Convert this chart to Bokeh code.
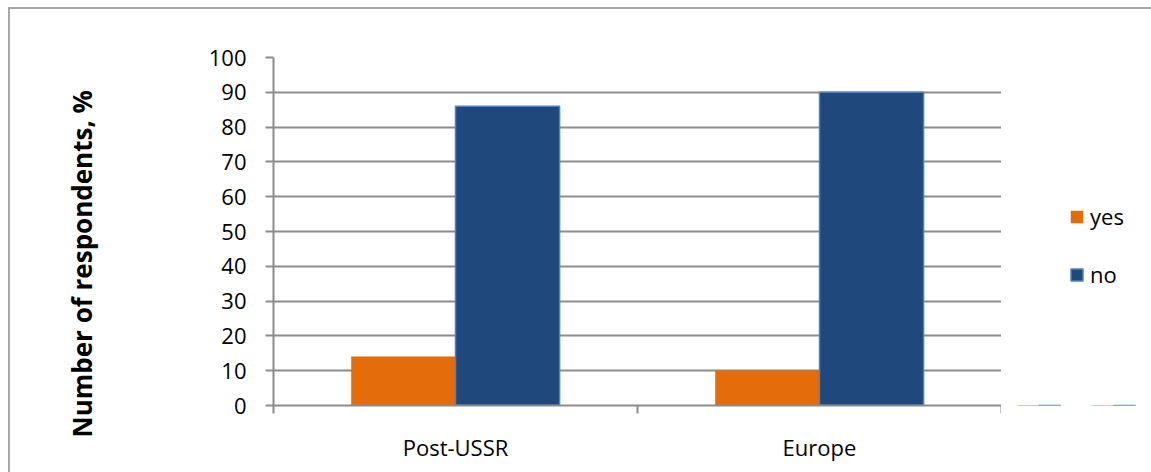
from bokeh.plotting import figure
from bokeh.layouts import row
from bokeh.models import (ColumnDataSource, FixedTicker, Range1d, Legend, LegendItem,
                          Title, InlineStyleSheet, LinearAxis)
from bokeh.embed import file_html
from bokeh.resources import INLINE

categories = ["Post-USSR", "Europe"]
series_names = ["yes", "no"]
yes_values = [14, 10]
no_values = [86, 90]
y_ticks = [0, 10, 20, 30, 40, 50, 60, 70, 80, 90, 100]

FONT = "Open Sans"
BAR_W = 0.286
YES_FILL, YES_LINE = "#E46C0A", "#E46C0A"
NO_FILL, NO_LINE = "#1F497D", "#4F81BD"

centers = [i + 0.5 for i in range(len(categories))]
src = ColumnDataSource(dict(
    xy=[c - BAR_W / 2 for c in centers],
    xn=[c + BAR_W / 2 for c in centers],
    yes=yes_values,
    no=no_values,
))

p = figure(frame_width=728, frame_height=348, output_backend="svg", toolbar_location=None,
           x_range=Range1d(0, len(categories)), y_range=Range1d(0, 100),
           min_border_left=0, min_border_right=0, min_border_top=57, min_border_bottom=67)
p.outline_line_color = None
p.background_fill_color = "white"
p.border_fill_color = "white"

p.vbar(x="xy", top="yes", width=BAR_W, bottom=0, source=src,
       fill_color=YES_FILL, line_color=YES_LINE, line_width=0.5)
p.vbar(x="xn", top="no", width=BAR_W, bottom=0, source=src,
       fill_color=NO_FILL, line_color=NO_LINE, line_width=1.5)

# axes
p.yaxis.ticker = FixedTicker(ticks=y_ticks)
p.yaxis.axis_line_color = "#8C8C8C"
p.yaxis.axis_line_width = 2
p.yaxis.major_tick_line_color = "#8C8C8C"
p.yaxis.major_tick_line_width = 2
p.yaxis.major_tick_out = 8
p.yaxis.major_tick_in = 0
p.yaxis.minor_tick_line_color = None
p.yaxis.major_label_text_font = FONT
p.yaxis.major_label_text_font_size = "22px"
p.yaxis.major_label_text_color = "black"
p.yaxis.major_label_standoff = 19

p.xaxis.ticker = FixedTicker(ticks=centers, minor_ticks=list(range(len(categories) + 1)))
p.xaxis.major_label_overrides = {c: name for c, name in zip(centers, categories)}
p.xaxis.axis_line_color = "#8C8C8C"
p.xaxis.axis_line_width = 2
p.xaxis.major_tick_line_color = None
p.xaxis.major_tick_out = 0
p.xaxis.major_tick_in = 0
p.xaxis.minor_tick_line_color = "#8C8C8C"
p.xaxis.minor_tick_line_width = 2
p.xaxis.minor_tick_out = 8
p.xaxis.minor_tick_in = 0
p.xaxis.major_label_text_font = FONT
p.xaxis.major_label_text_font_size = "22px"
p.xaxis.major_label_text_color = "black"
p.xaxis.major_label_standoff = 18

p.xgrid.grid_line_color = None
p.ygrid.ticker = FixedTicker(ticks=y_ticks)
p.ygrid.grid_line_color = "#8C8C8C"
p.ygrid.grid_line_width = 2

# left side: y axis, a blank spacer axis (white tick on white), then the y-axis title
p.add_layout(LinearAxis(ticker=FixedTicker(ticks=[0]), axis_line_color=None,
                        major_tick_line_color="white", minor_tick_line_color=None,
                        major_tick_out=41, major_tick_in=0, minor_tick_out=0,
                        minor_tick_in=0, major_label_standoff=0,
                        major_label_text_font_size="1px",
                        major_label_text_color="white",
                        major_label_overrides={0: ""}), "left")
ytitle = Title(text="Number of respondents, %", align="left", offset=-32,
               vertical_align="top", standoff=126,
               text_font=FONT, text_font_size="26px", text_font_style="bold",
               text_color="black")
p.add_layout(ytitle, "left")

# legend panel (separate narrow plot to the right of the chart; its renderers
# reuse the chart data but lie below this panel's visible range)
lg = figure(width=150, height=472, output_backend="svg", toolbar_location=None,
            x_axis_location=None, y_axis_location=None,
            min_border=0, x_range=Range1d(0, 2), y_range=Range1d(150, 250))
lg.outline_line_color = None
lg.xgrid.grid_line_color = None
lg.ygrid.grid_line_color = None
k_yes = lg.vbar(x="xy", top="yes", width=BAR_W, source=src,
                fill_color=YES_FILL, line_color=YES_LINE, line_width=0.5)
k_no = lg.vbar(x="xn", top="no", width=BAR_W, source=src,
               fill_color=NO_FILL, line_color=NO_LINE, line_width=1.5)
legend = Legend(items=[LegendItem(label=series_names[0], renderers=[k_yes]),
                       LegendItem(label=series_names[1], renderers=[k_no])],
                location=(68, 116), orientation="vertical",
                glyph_width=15, glyph_height=15, label_height=30,
                spacing=28, padding=0, margin=0, label_standoff=6,
                label_text_font=FONT, label_text_font_size="22px",
                label_text_color="black", border_line_color=None,
                background_fill_alpha=0)
lg.add_layout(legend)

layout = row(p, lg, spacing=0)
# chart-area border (left and top edges, as in the reference)
layout.stylesheets = [InlineStyleSheet(css=(
    ":host{position:relative;}"
    ":host::after{content:'';position:absolute;left:8px;top:7px;right:0;bottom:0;"
    "border-left:2px solid #A6A6A6;border-top:2px solid #A6A6A6;pointer-events:none;}"
))]

open("out.html", "w").write(file_html(layout, INLINE))
